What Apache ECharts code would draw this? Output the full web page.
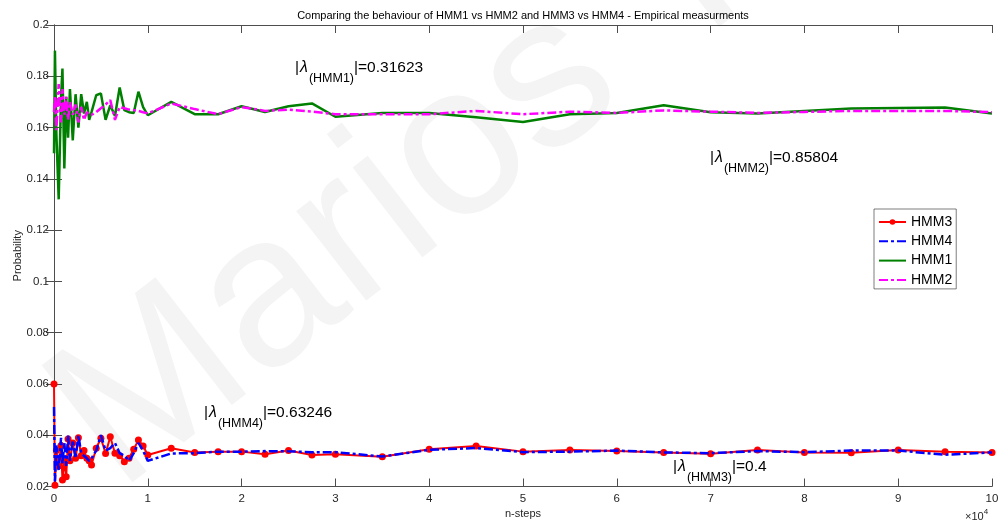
<!DOCTYPE html>
<html>
<head>
<meta charset="utf-8">
<script src="https://cdn.jsdelivr.net/npm/echarts@6/dist/echarts.min.js"></script>
<style>
html,body{margin:0;padding:0;background:#fff;}
#chart{width:1003px;height:522px;}
</style>
</head>
<body>
<div id="chart"></div>
<script>
// n-steps (x 10^4)
const nSteps = [0, 0.01, 0.025, 0.05, 0.075, 0.09, 0.11, 0.13, 0.15, 0.17, 0.2, 0.23, 0.26, 0.29, 0.32, 0.35, 0.375,
  0.4, 0.45, 0.5, 0.55, 0.6, 0.65, 0.7, 0.75, 0.8, 0.85, 0.9, 0.95, 1,
  1.25, 1.5, 1.75, 2, 2.25, 2.5, 2.75, 3,
  3.5, 4, 4.5, 5, 5.5, 6, 6.5, 7, 7.5, 8, 8.5, 9, 9.5, 10];

const hmm3 = [0.060,0.0205,0.034,0.028,0.036,0.0225,0.030,0.0238,0.0385,0.030,0.037,0.031,0.039,0.032,0.034,0.031,0.030,
  0.0284,0.0349,0.0388,0.0329,0.0394,0.033,0.032,0.0297,0.031,0.0345,0.0381,0.0358,0.0323,
  0.0349,0.0333,0.0336,0.0336,0.03255,0.0340,0.03228,0.03255,
  0.03162,0.0345,0.0358,0.0336,0.0342,0.0338,0.0333,0.0328,0.0342,0.0333,0.0332,0.0342,0.0336,0.0333];

const hmm4 = [0.051,0.022,0.036,0.026,0.039,0.029,0.037,0.028,0.040,0.030,0.038,0.031,0.040,0.033,0.032,0.031,0.030,
  0.031,0.034,0.040,0.034,0.035,0.037,0.033,0.032,0.030,0.033,0.037,0.034,0.030,
  0.0329,0.0330,0.0336,0.0336,0.0338,0.0337,0.0334,0.0334,
  0.0317,0.0343,0.0350,0.0334,0.0336,0.034,0.0333,0.0330,0.0338,0.0334,0.0340,0.0340,0.0324,0.0333];

const hmm1 = [0.150,0.190,0.158,0.132,0.172,0.183,0.144,0.172,0.156,0.175,0.155,0.173,0.160,0.173,0.1655,0.170,0.163,
  0.166,0.1726,0.1733,0.163,0.1687,0.1645,0.1756,0.1668,0.166,0.1657,0.174,0.168,0.1648,
  0.170,0.1652,0.1652,0.1683,0.1661,0.1683,0.1694,0.1642,
  0.1657,0.1657,0.164,0.1622,0.1652,0.1657,0.1687,0.166,0.1655,0.1665,0.1674,0.1676,0.1678,0.1655];

const hmm2 = [0.166,0.172,0.159,0.177,0.162,0.175,0.165,0.172,0.163,0.170,0.165,0.169,0.162,0.168,0.163,0.166,0.165,
  0.165,0.166,0.1675,0.169,0.1707,0.163,0.168,0.1675,0.167,0.1668,0.1665,0.166,0.1655,
  0.1694,0.1672,0.1652,0.168,0.1665,0.167,0.1662,0.1652,
  0.1652,0.1652,0.1665,0.1652,0.1662,0.1657,0.1667,0.1662,0.1657,0.1661,0.1665,0.1665,0.1665,0.166];

const seriesNames = ['HMM3', 'HMM4', 'HMM1', 'HMM2'];
const xTicks = { min: 0, max: 10, interval: 1 };
const yTicks = { min: 0.02, max: 0.2, interval: 0.02 };

const titleText = 'Comparing the behaviour of HMM1 vs HMM2 and HMM3 vs HMM4 - Empirical measurments';
const annotations = [
  { sub: '(HMM1)', val: '|=0.31623' },
  { sub: '(HMM2)', val: '|=0.85804' },
  { sub: '(HMM4)', val: '|=0.63246' },
  { sub: '(HMM3)', val: '|=0.4' }
];

function pairs(ys) { return nSteps.map((x, i) => [x, ys[i]]); }

const FONT = '"Liberation Sans", Helvetica, Arial, sans-serif';
const AX = '#4d4d4d';
const dashDot = [9, 3, 3, 3];

const chart = echarts.init(document.getElementById('chart'), null, { renderer: 'canvas' });

function annText(a) {
  return '{a||}{l|λ}{s|' + a.sub + '}{a|' + a.val + '}';
}
const richStyle = {
  a: { fontSize: 15.5, fontFamily: FONT, fill: '#000', lineHeight: 16, verticalAlign: 'top' },
  l: { fontSize: 16, fontFamily: FONT, fontStyle: 'italic', fill: '#000', lineHeight: 16, verticalAlign: 'top', padding: [0, 1, 0, 1] },
  s: { fontSize: 12.5, fontFamily: FONT, fill: '#000', lineHeight: 12, verticalAlign: 'top', padding: [12, 0, 0, 0] }
};
const annPos = [[295, 60], [710, 150], [204, 405], [673, 459]];

const axisCommon = {
  type: 'value',
  axisLine: { show: true, lineStyle: { color: AX, width: 1 } },
  axisTick: { show: true, inside: true, length: 8, lineStyle: { color: AX, width: 1 } },
  splitLine: { show: false },
  axisLabel: { color: '#262626', fontSize: 11.5, fontFamily: FONT }
};

const legendItem = (name, hideSymbol) => hideSymbol ? { name, itemStyle: { opacity: 0 } } : { name };

const option = {
  animation: false,
  backgroundColor: '#fff',
  grid: { left: 54, right: 11, top: 25, bottom: 35.5, containLabel: false, outerBoundsMode: 'none' },
  xAxis: [
    Object.assign({}, axisCommon, {
      min: xTicks.min, max: xTicks.max, interval: xTicks.interval,
      position: 'bottom',
      name: 'n-steps', nameLocation: 'middle', nameGap: 22, nameMoveOverlap: false,
      nameTextStyle: { color: '#262626', fontSize: 11, fontFamily: FONT },
      axisLabel: Object.assign({}, axisCommon.axisLabel, { margin: 6 })
    }),
    Object.assign({}, axisCommon, {
      min: xTicks.min, max: xTicks.max, interval: xTicks.interval,
      position: 'top', axisLabel: { show: false }
    })
  ],
  yAxis: [
    Object.assign({}, axisCommon, {
      min: yTicks.min, max: yTicks.max, interval: yTicks.interval,
      position: 'left',
      name: 'Probability', nameLocation: 'middle', nameGap: 31, nameMoveOverlap: false,
      nameTextStyle: { color: '#262626', fontSize: 11, fontFamily: FONT },
      axisLabel: Object.assign({}, axisCommon.axisLabel, { margin: 5 })
    }),
    Object.assign({}, axisCommon, {
      min: yTicks.min, max: yTicks.max, interval: yTicks.interval,
      position: 'right', axisLabel: { show: false }
    })
  ],
  legend: {
    data: [legendItem('HMM3', false), legendItem('HMM4', true), legendItem('HMM1', true), legendItem('HMM2', true)],
    orient: 'vertical',
    left: 874, top: 209,
    itemWidth: 27, itemHeight: 7, itemGap: 5.3,
    padding: [6, 4, 2, 4],
    borderColor: '#262626', borderWidth: 0.6,
    backgroundColor: '#fff',
    textStyle: { fontSize: 14, color: '#000', fontFamily: FONT },
    z: 10
  },
  graphic: [
    {
      type: 'text', z: -10, silent: true,
      x: 148, y: 531, rotation: 0.66,
      style: { text: 'Marios T', fontSize: 215, fontFamily: FONT, fill: '#f4f4f4', verticalAlign: 'bottom', align: 'left' }
    },
    {
      type: 'text', silent: true,
      style: { x: 523, y: 16, text: titleText, fontSize: 11, fontFamily: FONT, fill: '#000', align: 'center', verticalAlign: 'middle' }
    },
    {
      type: 'text', silent: true,
      style: {
        x: 965, y: 508, text: '{m|×10}{p|4}', align: 'left', verticalAlign: 'top',
        rich: {
          m: { fontSize: 11, fontFamily: FONT, fill: '#262626', lineHeight: 14, verticalAlign: 'bottom' },
          p: { fontSize: 8, fontFamily: FONT, fill: '#262626', lineHeight: 9, verticalAlign: 'top' }
        }
      }
    }
  ].concat(annotations.map((a, i) => ({
    type: 'text', silent: true, z: 5,
    style: {
      x: annPos[i][0], y: annPos[i][1], text: annText(a), align: 'left', verticalAlign: 'top',
      rich: richStyle
    }
  }))),
  series: [
    {
      name: 'HMM3', type: 'line', data: pairs(hmm3),
      symbol: 'circle', symbolSize: 7, showSymbol: true,
      itemStyle: { color: '#ff0000' },
      lineStyle: { color: '#ff0000', width: 2 },
      z: 2
    },
    {
      name: 'HMM4', type: 'line', data: pairs(hmm4),
      symbol: 'none',
      itemStyle: { color: '#0000ff' },
      lineStyle: { color: '#0000ff', width: 2.5, type: dashDot },
      z: 3
    },
    {
      name: 'HMM1', type: 'line', data: pairs(hmm1),
      symbol: 'none',
      itemStyle: { color: '#008000' },
      lineStyle: { color: '#008000', width: 2.5 },
      z: 4
    },
    {
      name: 'HMM2', type: 'line', data: pairs(hmm2),
      symbol: 'none',
      itemStyle: { color: '#ff00ff' },
      lineStyle: { color: '#ff00ff', width: 2.5, type: dashDot },
      z: 5
    }
  ]
};
chart.setOption(option);
</script>
</body>
</html>
